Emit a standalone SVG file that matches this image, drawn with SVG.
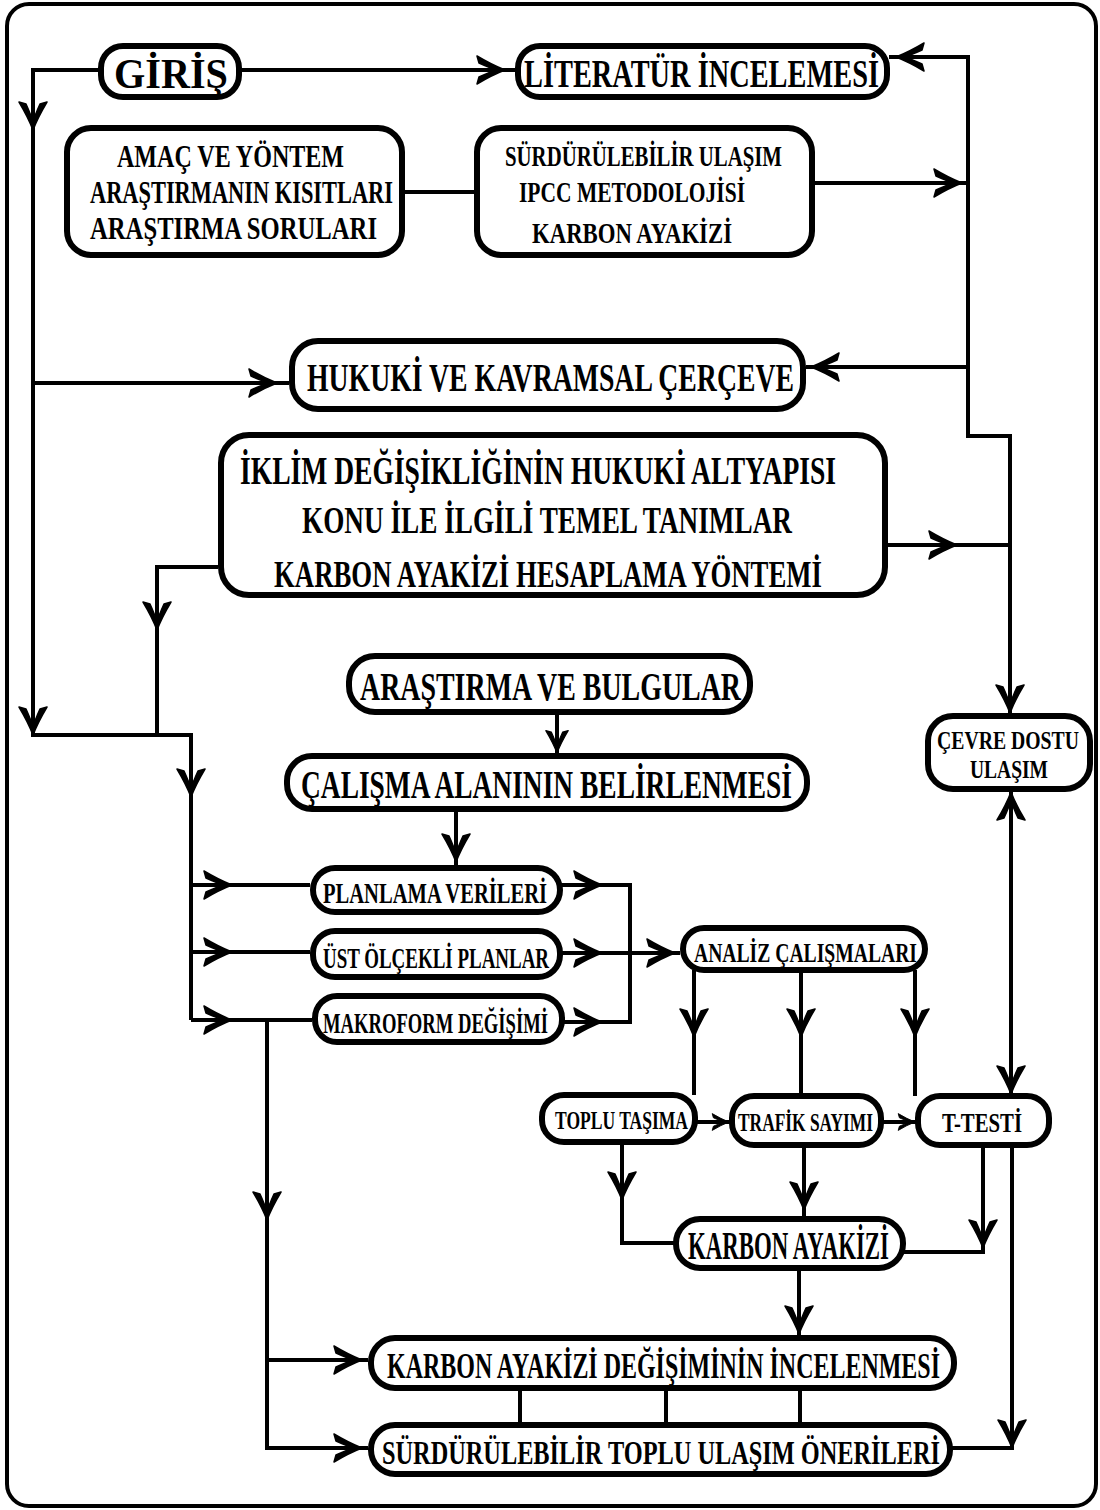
<svg xmlns="http://www.w3.org/2000/svg" width="1100" height="1510" viewBox="0 0 1100 1510">
<defs>
<style>
.frame{fill:#fff;stroke:#000;stroke-width:4}
.box{fill:#fff;stroke:#000;stroke-width:6}
.ln{fill:none;stroke:#000;stroke-width:4;stroke-linejoin:miter}
.t{font-family:"Liberation Serif","Times New Roman",serif;font-weight:bold;fill:#000}
</style>
<path id="ah" d="M0,0 Q-13,-5 -28,-14 L-26,-7 Q-15,-2 -8,0 Q-15,2 -26,7 L-28,14 Q-13,5 0,0 Z" fill="#000" stroke="#000" stroke-width="1.5" stroke-linejoin="round"/>
</defs>
<rect class="frame" x="7" y="4" width="1089" height="1502" rx="22"/>

<g id="connectors">
<path class="ln" d="M98,70 H33 V735 H191 V1020"/>
<path class="ln" d="M218,567 H157 V735"/>
<path class="ln" d="M33,383 H289"/>
<path class="ln" d="M242,70 H516"/>
<path class="ln" d="M405,192 H474"/>
<path class="ln" d="M815,183 H968"/>
<path class="ln" d="M889,57 H968 V436 H1010 V713"/>
<path class="ln" d="M968,367 H806"/>
<path class="ln" d="M888,545 H1010"/>
<path class="ln" d="M1011,789 V1096"/>
<path class="ln" d="M557,712 V756"/>
<path class="ln" d="M456,809 V865"/>
<path class="ln" d="M191,885 H310 M191,952 H310 M191,1020 H312"/>
<path class="ln" d="M560,885 H630 V1022 H562 M560,953 H680"/>
<path class="ln" d="M267,1020 V1448 H368 M267,1360 H368"/>
<path class="ln" d="M694,970 V1095 M801,970 V1096 M915,970 V1096"/>
<path class="ln" d="M695,1122 H732 M881,1122 H918"/>
<path class="ln" d="M622,1142 V1243 H676"/>
<path class="ln" d="M804,1145 V1219"/>
<path class="ln" d="M983,1145 V1252 H903"/>
<path class="ln" d="M1012,1145 V1448 H950"/>
<path class="ln" d="M799,1268 V1338"/>
<path class="ln" d="M520,1388 V1425 M666,1388 V1425 M800,1388 V1425"/>
<use href="#ah" transform="translate(505,70)"/>
<use href="#ah" transform="translate(33,130) rotate(90)"/>
<use href="#ah" transform="translate(33,735) rotate(90)"/>
<use href="#ah" transform="translate(157,630) rotate(90)"/>
<use href="#ah" transform="translate(191,797) rotate(90)"/>
<use href="#ah" transform="translate(277,383)"/>
<use href="#ah" transform="translate(896,57) rotate(180)"/>
<use href="#ah" transform="translate(962,183)"/>
<use href="#ah" transform="translate(811,367) rotate(180)"/>
<use href="#ah" transform="translate(957,545)"/>
<use href="#ah" transform="translate(1010,713) rotate(90)"/>
<use href="#ah" transform="translate(1011,792) rotate(-90)"/>
<use href="#ah" transform="translate(1011,1094) rotate(90)"/>
<use href="#ah" transform="translate(557,753) rotate(90) scale(0.8)"/>
<use href="#ah" transform="translate(456,862) rotate(90)"/>
<use href="#ah" transform="translate(232,885)"/>
<use href="#ah" transform="translate(232,952)"/>
<use href="#ah" transform="translate(232,1020)"/>
<use href="#ah" transform="translate(602,885)"/>
<use href="#ah" transform="translate(602,953)"/>
<use href="#ah" transform="translate(602,1022)"/>
<use href="#ah" transform="translate(675,953)"/>
<use href="#ah" transform="translate(694,1037) rotate(90)"/>
<use href="#ah" transform="translate(801,1037) rotate(90)"/>
<use href="#ah" transform="translate(915,1037) rotate(90)"/>
<use href="#ah" transform="translate(729,1122) scale(0.6)"/>
<use href="#ah" transform="translate(915,1122) scale(0.6)"/>
<use href="#ah" transform="translate(622,1200) rotate(90)"/>
<use href="#ah" transform="translate(804,1210) rotate(90)"/>
<use href="#ah" transform="translate(983,1248) rotate(90)"/>
<use href="#ah" transform="translate(267,1220) rotate(90)"/>
<use href="#ah" transform="translate(362,1360)"/>
<use href="#ah" transform="translate(362,1448)"/>
<use href="#ah" transform="translate(1012,1448) rotate(90)"/>
<use href="#ah" transform="translate(799,1334) rotate(90)"/>
</g>

<g id="giris">
<rect class="box" x="101" y="46" width="138" height="51" rx="22"/>
<text class="t" x="114" y="88" font-size="42" textLength="114" lengthAdjust="spacingAndGlyphs">GİRİŞ</text>
</g>
<g id="literatur">
<rect class="box" x="518" y="46" width="369" height="51" rx="22"/>
<text class="t" x="524" y="87" font-size="40" textLength="355" lengthAdjust="spacingAndGlyphs">LİTERATÜR İNCELEMESİ</text>
</g>
<g id="amac">
<rect class="box" x="67" y="128" width="335" height="127" rx="24"/>
<text class="t" x="117" y="167" font-size="31" textLength="227" lengthAdjust="spacingAndGlyphs">AMAÇ VE YÖNTEM</text>
<text class="t" x="90" y="203" font-size="31" textLength="303" lengthAdjust="spacingAndGlyphs">ARAŞTIRMANIN KISITLARI</text>
<text class="t" x="90" y="239" font-size="31" textLength="287" lengthAdjust="spacingAndGlyphs">ARAŞTIRMA SORULARI</text>
</g>
<g id="surdurulebilir">
<rect class="box" x="477" y="128" width="335" height="127" rx="24"/>
<text class="t" x="505" y="166" font-size="30" textLength="277" lengthAdjust="spacingAndGlyphs">SÜRDÜRÜLEBİLİR ULAŞIM</text>
<text class="t" x="519" y="202" font-size="30" textLength="226" lengthAdjust="spacingAndGlyphs">IPCC METODOLOJİSİ</text>
<text class="t" x="532" y="243" font-size="30" textLength="200" lengthAdjust="spacingAndGlyphs">KARBON AYAKİZİ</text>
</g>
<g id="hukuki">
<rect class="box" x="292" y="341" width="511" height="68" rx="26"/>
<text class="t" x="307" y="391" font-size="40" textLength="487" lengthAdjust="spacingAndGlyphs">HUKUKİ VE KAVRAMSAL ÇERÇEVE</text>
</g>
<g id="iklim">
<rect class="box" x="221" y="435" width="664" height="160" rx="28"/>
<text class="t" x="240" y="484" font-size="39" textLength="596" lengthAdjust="spacingAndGlyphs">İKLİM  DEĞİŞİKLİĞİNİN HUKUKİ ALTYAPISI</text>
<text class="t" x="302" y="533" font-size="38" textLength="490" lengthAdjust="spacingAndGlyphs">KONU İLE İLGİLİ TEMEL TANIMLAR</text>
<text class="t" x="274" y="587" font-size="38" textLength="548" lengthAdjust="spacingAndGlyphs">KARBON AYAKİZİ HESAPLAMA YÖNTEMİ</text>
</g>
<g id="arastirma">
<rect class="box" x="349" y="656" width="401" height="56" rx="26"/>
<text class="t" x="360" y="700" font-size="41" textLength="381" lengthAdjust="spacingAndGlyphs">ARAŞTIRMA VE BULGULAR</text>
</g>
<g id="calisma">
<rect class="box" x="287" y="756" width="520" height="53" rx="25"/>
<text class="t" x="301" y="798" font-size="39" textLength="491" lengthAdjust="spacingAndGlyphs">ÇALIŞMA ALANININ BELİRLENMESİ</text>
</g>
<g id="cevre">
<rect class="box" x="928" y="716" width="162" height="73" rx="25"/>
<text class="t" x="937" y="749" font-size="25" textLength="142" lengthAdjust="spacingAndGlyphs">ÇEVRE DOSTU</text>
<text class="t" x="970" y="778" font-size="25" textLength="78" lengthAdjust="spacingAndGlyphs">ULAŞIM</text>
</g>
<g id="planlama">
<rect class="box" x="313" y="868" width="247" height="44" rx="22"/>
<text class="t" x="323" y="903" font-size="29" textLength="224" lengthAdjust="spacingAndGlyphs">PLANLAMA VERİLERİ</text>
</g>
<g id="ust">
<rect class="box" x="313" y="931" width="247" height="46" rx="22"/>
<text class="t" x="323" y="968" font-size="29" textLength="226" lengthAdjust="spacingAndGlyphs">ÜST ÖLÇEKLİ PLANLAR</text>
</g>
<g id="makroform">
<rect class="box" x="315" y="996" width="247" height="46" rx="22"/>
<text class="t" x="323" y="1033" font-size="29" textLength="225" lengthAdjust="spacingAndGlyphs">MAKROFORM DEĞİŞİMİ</text>
</g>
<g id="analiz">
<rect class="box" x="683" y="928" width="242" height="42" rx="21"/>
<text class="t" x="694" y="962" font-size="28" textLength="223" lengthAdjust="spacingAndGlyphs">ANALİZ ÇALIŞMALARI</text>
</g>
<g id="toplu">
<rect class="box" x="542" y="1095" width="153" height="47" rx="22"/>
<text class="t" x="555" y="1129" font-size="26" textLength="133" lengthAdjust="spacingAndGlyphs">TOPLU TAŞIMA</text>
</g>
<g id="trafik">
<rect class="box" x="732" y="1096" width="149" height="49" rx="22"/>
<text class="t" x="738" y="1131" font-size="26" textLength="135" lengthAdjust="spacingAndGlyphs">TRAFİK SAYIMI</text>
</g>
<g id="ttesti">
<rect class="box" x="918" y="1096" width="131" height="49" rx="22"/>
<text class="t" x="942" y="1132" font-size="28" textLength="80" lengthAdjust="spacingAndGlyphs">T-TESTİ</text>
</g>
<g id="karbon">
<rect class="box" x="676" y="1219" width="227" height="49" rx="24"/>
<text class="t" x="688" y="1259" font-size="39" textLength="201" lengthAdjust="spacingAndGlyphs">KARBON AYAKİZİ</text>
</g>
<g id="degisim">
<rect class="box" x="371" y="1338" width="583" height="50" rx="24"/>
<text class="t" x="387" y="1378" font-size="36" textLength="553" lengthAdjust="spacingAndGlyphs">KARBON AYAKİZİ DEĞİŞİMİNİN İNCELENMESİ</text>
</g>
<g id="oneriler">
<rect class="box" x="371" y="1425" width="579" height="49" rx="24"/>
<text class="t" x="382" y="1464" font-size="34" textLength="558" lengthAdjust="spacingAndGlyphs">SÜRDÜRÜLEBİLİR TOPLU ULAŞIM ÖNERİLERİ</text>
</g>
</svg>
